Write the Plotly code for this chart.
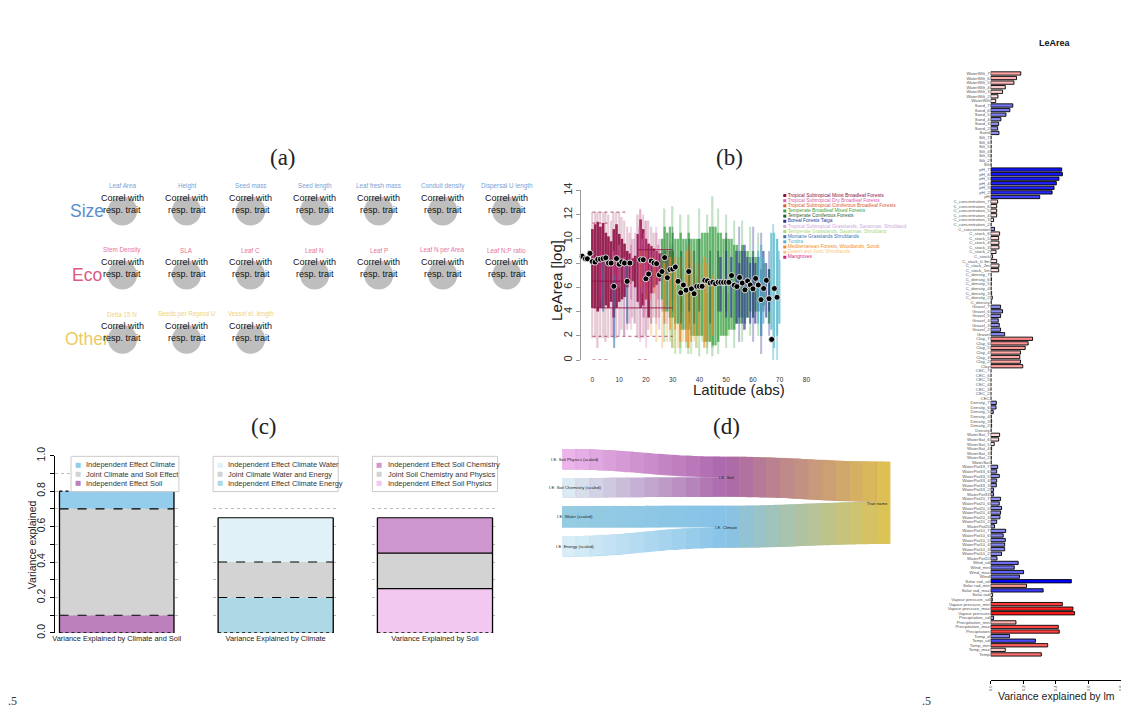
import plotly.graph_objects as go

W, H = 1129, 720
OFF = 8  # page body margin of the html page


def PX(x):
    return (x - OFF) / W


def PY(y):
    return 1 - (y - OFF) / H


# ------------------------------------------------------------------ data
# (a) trait network grid
a_groups = ["Size", "Eco", "Other"]
a_traits_size = ["Leaf Area", "Height", "Seed mass", "Seed length", "Leaf fresh mass",
                 "Conduit density", "Dispersal U length"]
a_traits_eco = ["Stem Density", "SLA", "Leaf C", "Leaf N", "Leaf P", "Leaf N per Area",
                "Leaf N:P ratio"]
a_traits_other = ["Delta 15 N", "Seeds per Reprod U", "Vessel el. length"]
a_node_text = ["Correl with", "resp. trait"]

# (b) LeArea vs latitude
b_biomes = ["Tropical Subtropical Moist Broadleaf Forests",
            "Tropical Subtropical Dry Broadleaf Forests",
            "Tropical Subtropical Coniferous Broadleaf Forests",
            "Temperate Broadleaf Mixed Forests",
            "Temperate Coniferous Forests",
            "Boreal Forests Taiga",
            "Tropical Subtropical Grasslands, Savannas, Shrubland",
            "Temperate Grasslands, Savannas, Shrubland",
            "Montane Grasslands Shrublands",
            "Tundra",
            "Mediterranean Forests, Woodlands, Scrub",
            "Desert and Xeric Shrublands",
            "Mangroves"]
b_x_ticks = [0, 10, 20, 30, 40, 50, 60, 70, 80]
b_y_ticks = [0, 2, 4, 6, 8, 10, 12, 14]
b_mean_lat = [-3.8, -2.6, -1.9, -0.9, 0, 1, 2, 3, 4, 5, 6, 7, 8, 9, 10, 11, 12, 13, 14,
              18, 19, 20, 21, 22, 23, 24, 25, 26, 27, 28, 29, 30, 31, 32, 33, 34, 35, 36,
              37, 38, 39, 40, 41, 42, 43, 44, 45, 46, 47, 48, 49, 50, 51, 52, 53, 54, 55,
              56, 57, 58, 59, 60, 61, 62, 63, 64, 65, 66, 67, 68, 69]
b_mean_val = [8.56, 8.35, 8.35, 8.8, 8.13, 8.08, 8.3, 8.32, 8.37, 8.43, 8.0, 8.0, 6.08,
              8.37, 7.9, 8.1, 8.0, 6.49, 8.0,
              8.27, 8.27, 6.7, 7.1, 8.16, 8.0, 7.95, 7.03, 7.3, 8.45, 6.79, 7.46, 7.5,
              7.67, 6.49, 5.55, 6.19, 5.76, 7.3, 5.87, 5.47, 6.08, 6.08, 6.08, 6.57, 6.52,
              6.35, 6.41, 6.3, 6.41, 6.41, 6.41, 6.41, 6.41, 6.97, 6.17, 6.06, 6.81, 6.35,
              5.79, 6.52, 6.19, 5.87, 6.73, 6.19, 4.98, 5.9, 6.57, 5.06, 1.7, 5.9, 5.17]
# point clouds summarised as vertical strips: (latitude, low, high)
moist_core = [(0, 4.3, 10.8), (1, 4.3, 11.2), (2, 4.0, 11.4), (3, 4.3, 11.0), (4, 4.3, 11.3),
              (5, 4.5, 10.5), (6, 4.3, 10.2), (7, 4.8, 9.8), (8, 3.5, 10.8), (9, 4.3, 11.2),
              (10, 4.8, 10.4), (11, 5.0, 10.0), (12, 5.2, 9.6), (13, 6.0, 9.0), (14, 6.3, 8.8),
              (15, 6.5, 8.4), (16, 6.0, 8.6), (17, 4.8, 10.4), (18, 4.3, 11.6), (19, 4.5, 10.8),
              (20, 5.0, 10.0), (21, 3.5, 9.6), (22, 5.5, 9.4), (23, 6.0, 9.2), (24, 6.2, 9.0),
              (25, 6.5, 8.8), (26, 6.8, 8.8), (27, 6.8, 9.0), (28, 7.0, 8.6), (29, 7.2, 9.0),
              (30, 7.2, 9.0)]
moist_sparse = [(0, 1.8, 12.2), (1, 1.8, 12.2), (2, 1.0, 12.2), (3, 1.8, 12.2), (4, 1.8, 12.2),
                (5, 1.5, 12.2), (6, 1.8, 12.0), (7, 2.0, 11.5), (8, 1.8, 12.2), (9, 1.8, 12.2),
                (10, 2.0, 12.2), (11, 2.5, 11.8), (12, 2.0, 11.5), (13, 2.5, 11.0), (14, 3.0, 10.5),
                (15, 3.5, 10.0), (16, 3.0, 10.5), (17, 1.8, 12.0), (18, 1.8, 12.4), (19, 1.8, 12.0),
                (20, 2.0, 11.5), (21, 2.5, 11.5), (22, 3.0, 11.0), (23, 3.5, 10.5), (24, 3.5, 10.5),
                (25, 3.5, 10.0), (26, 4.0, 10.0), (27, 4.0, 10.0), (28, 4.5, 10.5), (29, 4.5, 9.8),
                (30, 5.0, 9.5)]
moist_lines = [(0, 30, 4.3), (0, 14, 6.5), (17, 30, 9.1)]
moist_dots = [(0, 13, 12.2), (0, 6, 11.3), (0, 6, 0.0), (17, 21, 0.0), (0, 30, 1.95)]
dry_core = [(8, 6.5, 9.0), (10, 6.0, 9.5), (12, 6.5, 8.5), (14.5, 5.0, 9.5), (17.5, 4.5, 11.0),
            (18.5, 5.5, 10.0), (19.5, 3.5, 10.5), (21.5, 5.0, 9.5), (23, 6.0, 9.0),
            (24.5, 5.0, 9.5), (26, 6.5, 8.5)]
dry_sparse = [(14.5, 2.5, 11.0), (18, 1.5, 12.5), (20, 1.0, 11.5), (24, 3.0, 11.0)]
conif_trop = [(18, 6.0, 9.0), (20, 5.0, 9.0), (23, 5.5, 8.5)]
temp_broad_core = [(26, 5, 10), (27, 4, 11), (28, 4, 10.5), (29, 3.5, 11), (30, 3.5, 10.5),
                   (31, 3, 10), (32, 3, 10), (33, 2.5, 10.5), (34, 2.5, 10), (35, 2.5, 10),
                   (36, 2.5, 10.5), (37, 2, 10), (38, 2, 10), (39, 2, 10), (40, 2, 10),
                   (41, 2, 10.5), (42, 1.5, 10.5), (43, 1.5, 10.5), (44, 1.5, 11), (45, 1.2, 11),
                   (46, 1.2, 11), (47, 1.5, 10.5), (48, 2, 10.5), (49, 2, 10), (50, 2, 10),
                   (51, 2.5, 10), (52, 2.5, 10), (53, 2.5, 9.5), (54, 3, 9.5), (55, 3, 9),
                   (56, 3.5, 9.5), (57, 3, 9), (58, 3.5, 9), (59, 4, 8.5), (60, 3.5, 9),
                   (61, 4, 8.5), (62, 4, 8.5), (64, 4.5, 8), (66, 3, 7.5)]
temp_broad_sparse = [(27, 1.5, 12.5), (30, 1, 12.7), (33, 0.5, 12), (36, 0.5, 12), (40, 0.3, 12.5),
                     (43, 0.5, 12), (45, 0.3, 13.5), (47, 0.5, 12.5), (50, 1, 12), (53, 1, 11.5),
                     (56, 1.5, 11.5), (59, 2, 11), (62, 2, 10.5)]
temp_conif = [(30, 4, 11), (33, 3, 9), (36, 4, 10), (38, 3, 9), (40, 4, 10), (44, 3, 9),
              (47, 4, 9), (50, 4, 10.5)]
boreal_core = [(48, 4, 8.5), (50, 3.5, 9), (52, 3.5, 8.5), (54, 3, 9), (55, 3.5, 8), (56, 3, 9),
               (57, 2.5, 9.5), (58, 3.5, 8.5), (59, 3, 8), (60, 3.5, 8.5), (61, 3, 8),
               (62, 4, 8.5), (63, 2, 7.5), (64, 4, 9), (65, 3.5, 8), (66, 4, 7.5)]
boreal_sparse = [(55, 1.5, 11), (60, 1.5, 11), (63, 0.5, 10.5), (66, 2, 9)]
trop_grass = [(8, 2.0, 8.5), (12, 2.0, 9.0), (13, 3, 9), (15.5, 3.0, 10.0), (19, 3.5, 9.5),
              (22, 3.0, 8.5), (25, 2.5, 9.0), (28, 3, 9), (32, 3.0, 8.5)]
temp_grass = [(29, 1.5, 5), (31, 0.5, 6), (33, 1, 7), (35, 1, 5.5), (37, 0.5, 6), (39, 1, 6.5),
              (41, 1.5, 6), (43, 1, 5.5), (45, 1, 6.5), (47, 1.5, 6), (49, 2, 6), (51, 2, 5.5),
              (53, 2.5, 5.5)]
montane = [(4, 4, 8), (8, 1, 7), (13, 3, 8), (27, 3, 9), (29, 3.5, 8.5), (33, 4, 9), (36, 3, 8)]
tundra_core = [(62, 3, 9), (63, 2, 9.5), (64, 3, 8.5), (67, 2.5, 10.5), (68, 1.0, 10.5),
               (69, 2, 10), (70, 3, 9)]
tundra_sparse = [(67.5, 0, 11.2), (69, 0, 10)]
medit_core = [(27, 3, 8), (29, 2.5, 8.5), (31, 2.5, 8.5), (33, 1.5, 8.5), (35, 1.5, 9),
              (36, 1, 9.5), (37, 1.5, 9), (38, 2, 8), (40, 2, 8), (42, 1, 8.5), (43, 1.5, 8),
              (45, 2, 7)]
desert = [(22, 2, 7.5), (24, 1.5, 8), (26, 1, 9), (28, 1.5, 8.5), (30, 1, 9), (31, 1, 8),
          (32, 1, 8), (34, 1.5, 7.5), (36, 1, 7), (38, 1.5, 7.5), (39, 1, 7), (41, 2, 7),
          (44, 1.5, 6)]
mangroves = [(3, 5, 9), (9, 6, 9), (20, 6, 8.5)]

# (c) variance partitioning (stack order bottom -> top)
c1_label = "Variance Explained by Climate and Soil"
c1_names = ["Independent Effect Soil", "Joint Climate and Soil Effect", "Independent Effect Climate"]
c1_values = [0.10, 0.60, 0.10]
c2_label = "Variance Explained by Climate"
c2_names = ["Independent Effect Climate Energy", "Joint Climate Water and Energy",
            "Independent Effect Climate Water"]
c2_values = [0.20, 0.20, 0.25]
c3_label = "Variance Explained by Soil"
c3_names = ["Independent Effect Soil Physics", "Joint Soil Chemistry and Physics",
            "Independent Effect Soil Chemistry"]
c3_values = [0.25, 0.20, 0.20]
c_ticks = [0.0, 0.1, 0.2, 0.3, 0.4, 0.5, 0.6, 0.7, 0.8, 0.9, 1.0]

# (d) sankey
d_nodes = ["I.E. Soil Physics (scaled)", "I.E. Soil Chemistry (scaled)", "I.E. Water (scaled)",
           "I.E. Energy (scaled)", "I.E. Soil", "I.E. Climate", "Trait name"]
d_source = ["I.E. Soil Physics (scaled)", "I.E. Soil Chemistry (scaled)", "I.E. Water (scaled)",
            "I.E. Energy (scaled)", "I.E. Soil", "I.E. Climate"]
d_target = ["I.E. Soil", "I.E. Soil", "I.E. Climate", "I.E. Climate", "Trait name", "Trait name"]
d_value = [21, 20, 22, 21, 41, 43]

# right: variance explained by lm (top -> bottom); sign: +1 red, -1 blue
r_names = ["WaterWilt_7", "WaterWilt_6", "WaterWilt_5", "WaterWilt_4", "WaterWilt_3", "WaterWilt_2", "WaterWilt",
           "Sand_7", "Sand_6", "Sand_5", "Sand_4", "Sand_3", "Sand_2", "Sand",
           "Silt_7", "Silt_6", "Silt_5", "Silt_4", "Silt_3", "Silt_2", "Silt",
           "pH_7", "pH_6", "pH_5", "pH_4", "pH_3", "pH_2", "pH",
           "C_concentration_7", "C_concentration_6", "C_concentration_5", "C_concentration_4",
           "C_concentration_3", "C_concentration_2", "C_concentration",
           "C_stock_6", "C_stock_5", "C_stock_4", "C_stock_3", "C_stock_2", "C_stock",
           "C_stock_0.3m", "C_stock_2m", "C_stock_1m",
           "C_density_7", "C_density_6", "C_density_5", "C_density_4", "C_density_3", "C_density_2", "C_density",
           "Gravel_7", "Gravel_6", "Gravel_5", "Gravel_4", "Gravel_3", "Gravel_2", "Gravel",
           "Clay_7", "Clay_6", "Clay_5", "Clay_4", "Clay_3", "Clay_2", "Clay",
           "CEC_7", "CEC_6", "CEC_5", "CEC_4", "CEC_3", "CEC_2", "CEC",
           "Density_7", "Density_6", "Density_5", "Density_4", "Density_3", "Density_2", "Density",
           "WaterSat_7", "WaterSat_6", "WaterSat_5", "WaterSat_4", "WaterSat_3", "WaterSat_2", "WaterSat",
           "WaterPot33_7", "WaterPot33_6", "WaterPot33_5", "WaterPot33_4", "WaterPot33_3", "WaterPot33_2", "WaterPot33",
           "WaterPot20_7", "WaterPot20_6", "WaterPot20_5", "WaterPot20_4", "WaterPot20_3", "WaterPot20_2", "WaterPot20",
           "WaterPot10_7", "WaterPot10_6", "WaterPot10_5", "WaterPot10_4", "WaterPot10_3", "WaterPot10_2", "WaterPot10",
           "Wind_sd", "Wind_min", "Wind_max", "Wind",
           "Solar rad_sd", "Solar rad_min", "Solar rad_max", "Solar rad",
           "Vapour pressure_sd", "Vapour pressure_min", "Vapour pressure_max", "Vapour pressure",
           "Precipitation_sd", "Precipitation_min", "Precipitation_max", "Precipitation",
           "Temp_d", "Temp_sd", "Temp_min", "Temp_max", "Temp"]
r_values = [0.185, 0.159, 0.143, 0.090, 0.073, 0.045, 0.031,
            0.136, 0.118, 0.094, 0.063, 0.049, 0.043, 0.051,
            0.003, 0.003, 0.003, 0.003, 0.003, 0.003, 0.003,
            0.436, 0.440, 0.419, 0.403, 0.389, 0.377, 0.301,
            0.043, 0.037, 0.037, 0.037, 0.018, 0.003, 0.024,
            0.055, 0.049, 0.051, 0.051, 0.033, 0.012, 0.037, 0.051, 0.049,
            0.003, 0.005, 0.004, 0.003, 0.006, 0.010, 0.004,
            0.061, 0.073, 0.061, 0.047, 0.053, 0.061, 0.086,
            0.257, 0.230, 0.212, 0.183, 0.179, 0.183, 0.197,
            0.002, 0.002, 0.002, 0.002, 0.002, 0.002, 0.002,
            0.035, 0.033, 0.016, 0.004, 0.006, 0.006, 0.003,
            0.055, 0.049, 0.022, 0.006, 0.004, 0.004, 0.004,
            0.043, 0.037, 0.053, 0.037, 0.035, 0.018, 0.018,
            0.061, 0.053, 0.067, 0.061, 0.057, 0.037, 0.024,
            0.092, 0.077, 0.090, 0.086, 0.086, 0.067, 0.039,
            0.169, 0.145, 0.202, 0.177,
            0.495, 0.220, 0.322, 0.012,
            0.010, 0.440, 0.505, 0.515,
            0.018, 0.155, 0.415, 0.421,
            0.116, 0.275, 0.350, 0.090, 0.311]
r_sign = [1, 1, 1, 1, 1, 1, 1,
          -1, -1, -1, -1, -1, -1, -1,
          1, 1, 1, 1, 1, 1, 1,
          -1, -1, -1, -1, -1, -1, -1,
          1, 1, 1, 1, 1, 1, -1,
          1, 1, 1, 1, 1, 1, 1, 1, 1,
          1, 1, 1, 1, 1, 1, 1,
          -1, -1, -1, -1, -1, -1, -1,
          1, 1, 1, 1, 1, 1, 1,
          1, 1, 1, 1, 1, 1, 1,
          -1, -1, -1, 1, 1, 1, 1,
          1, 1, 1, 1, 1, 1, 1,
          -1, -1, -1, -1, -1, -1, -1,
          -1, -1, -1, -1, -1, -1, -1,
          -1, -1, -1, -1, -1, -1, -1,
          -1, -1, -1, -1,
          -1, 1, -1, 1,
          -1, 1, 1, 1,
          -1, 1, 1, 1,
          -1, -1, 1, 1, 1]
r_x_ticks = [0.0, 0.2, 0.4, 0.6, 0.8]

# ------------------------------------------------------------------ helpers
SANS = "Liberation Sans, Arial, Helvetica, sans-serif"
SERIF = "Liberation Serif, DejaVu Serif, serif"


def hex2rgb(h):
    h = h.lstrip("#")
    return [int(h[i:i + 2], 16) for i in (0, 2, 4)]


def mix(c0, c1, t):
    a, b = hex2rgb(c0), hex2rgb(c1)
    return "rgb(%d,%d,%d)" % tuple(round(a[i] + (b[i] - a[i]) * t) for i in range(3))


fig = go.Figure()
ann = []
shapes = []


def note(text, x, y, size, color="#222", family=SANS, xref="paper", yref="paper",
         xanchor="center", **kw):
    d = dict(x=x, y=y, xref=xref, yref=yref, text=text, showarrow=False, xanchor=xanchor,
             yanchor="middle", font=dict(family=family, size=size, color=color))
    d.update(kw)
    ann.append(d)


# ------------------------------------------------------------------ (a)
a_rows = [a_traits_size, a_traits_eco, a_traits_other]
a_group_colors = ["#5B8ECF", "#E05A84", "#EBCB66"]
a_label_colors = ["#7AA2D6", "#E7749A", "#F0D27A"]
cx, cy = [], []
for r, row in enumerate(a_rows):
    note(a_groups[r], PX(84), r, 17.5, a_group_colors[r], yref="y")
    for c, name in enumerate(row):
        cx.append(c)
        cy.append(r)
        note(name, c, r, 6.3, a_label_colors[r], xref="x", yref="y", yshift=25)
        note(a_node_text[0], c, r, 9, "#111", xref="x", yref="y", yshift=13)
        note(a_node_text[1], c, r, 9, "#111", xref="x", yref="y", yshift=1)
fig.add_trace(go.Scatter(x=cx, y=cy, mode="markers", xaxis="x", yaxis="y",
                         marker=dict(size=29, color="#BEBEBE", line=dict(width=0)),
                         hoverinfo="skip", showlegend=False))

# ------------------------------------------------------------------ (b)
bcol = ["#8E1244", "#D860AA", "#D75A30", "#38A043", "#1E5E38", "#2D3690", "#CDA8DA",
        "#A9D67C", "#3C73B0", "#4DB4CC", "#F28C28", "#F8C783", "#D61F7D"]


def strips(data, color, width, opacity):
    fig.add_trace(go.Bar(x=[s[0] for s in data], base=[s[1] for s in data],
                         y=[s[2] - s[1] for s in data], width=width, opacity=opacity,
                         marker=dict(color=color, line=dict(width=0)),
                         xaxis="x2", yaxis="y2", hoverinfo="skip", showlegend=False))


def streaks(data, color, dash, width, opacity):
    xs, ys = [], []
    for s in data:
        xs += [s[0], s[1], None]
        ys += [s[2], s[2], None]
    fig.add_trace(go.Scatter(x=xs, y=ys, mode="lines", opacity=opacity,
                             line=dict(color=color, width=width, dash=dash),
                             xaxis="x2", yaxis="y2", hoverinfo="skip", showlegend=False))


strips(desert, bcol[11], 0.6, 0.55)
strips(temp_grass, bcol[7], 0.6, 0.55)
strips(trop_grass, bcol[6], 0.5, 0.5)
strips(moist_sparse, bcol[0], 0.6, 0.22)
strips(moist_core, bcol[0], 1.0, 0.9)
streaks(moist_lines, bcol[0], "solid", 1.2, 0.7)
streaks(moist_dots, bcol[0], "dot", 1.3, 0.55)
strips(dry_sparse, bcol[1], 0.5, 0.25)
strips(dry_core, bcol[1], 0.5, 0.5)
strips(conif_trop, bcol[2], 0.4, 0.5)
strips(mangroves, bcol[12], 0.4, 0.5)
strips(montane, bcol[8], 0.35, 0.6)
strips(temp_broad_sparse, bcol[3], 0.5, 0.3)
strips(temp_broad_core, bcol[3], 0.9, 0.72)
strips(medit_core, bcol[10], 0.5, 0.65)
strips(temp_conif, bcol[4], 0.35, 0.5)
strips(boreal_sparse, bcol[5], 0.4, 0.35)
strips(boreal_core, bcol[5], 0.6, 0.65)
strips(tundra_sparse, bcol[9], 0.4, 0.45)
strips(tundra_core, bcol[9], 0.55, 0.7)

fig.add_trace(go.Scatter(x=b_mean_lat, y=b_mean_val, mode="markers", xaxis="x2", yaxis="y2",
                         marker=dict(size=6, color="black", line=dict(color="white", width=0.8)),
                         cliponaxis=False, hoverinfo="skip", showlegend=False))

# legend of (b)
fig.add_trace(go.Scatter(x=[0.04] * len(b_biomes), y=list(range(len(b_biomes))),
                         mode="markers+text", text=b_biomes, textposition="middle right",
                         textfont=dict(family=SANS, size=4.9, color=bcol),
                         marker=dict(size=3, symbol="square", color=bcol),
                         xaxis="x3", yaxis="y3", hoverinfo="skip", showlegend=False,
                         cliponaxis=False))

note("LeArea [log]", PX(556.5), PY(277.5), 15, textangle=-90)
note("Latitude (abs)", PX(739), PY(388), 15)

# ------------------------------------------------------------------ (c)
c_colors = {
    "Independent Effect Soil": "#BC80BD",
    "Joint Climate and Soil Effect": "#D3D3D3",
    "Independent Effect Climate": "#93CDEB",
    "Independent Effect Climate Energy": "#ADD8E6",
    "Joint Climate Water and Energy": "#D3D3D3",
    "Independent Effect Climate Water": "#E0F2F7",
    "Independent Effect Soil Physics": "#F2C8F0",
    "Joint Soil Chemistry and Physics": "#D3D3D3",
    "Independent Effect Soil Chemistry": "#CF97CF",
}
c_panels = [(c1_label, c1_names, c1_values, "4", "dash", "dot", (68.3, 176.7)),
            (c2_label, c2_names, c2_values, "5", "dash", "solid", (211, 336.7)),
            (c3_label, c3_names, c3_values, "6", "solid", "solid", (371, 496.7))]
BW = 0.92
hw = BW / 2
for label, names, vals, k, inner_dash, top_dash, box in c_panels:
    base = 0.0
    bounds = [0.0]
    for n, v in zip(names, vals):
        fig.add_trace(go.Bar(x=[0], y=[v], base=[base], width=BW, xaxis="x" + k, yaxis="y" + k,
                             marker=dict(color=c_colors[n], line=dict(width=0)),
                             hoverinfo="skip", showlegend=False))
        base += v
        bounds.append(base)
    total = bounds[-1]
    fig.add_trace(go.Scatter(x=[-hw, -hw, None, hw, hw], y=[0, total, None, 0, total], mode="lines",
                             line=dict(color="black", width=1.3), xaxis="x" + k, yaxis="y" + k,
                             hoverinfo="skip", showlegend=False))
    for i, b in enumerate(bounds):
        dash = "dot" if i == 0 else (top_dash if i == len(bounds) - 1 else inner_dash)
        fig.add_trace(go.Scatter(x=[-hw, hw], y=[b, b], mode="lines",
                                 line=dict(color="black", width=1.1, dash=dash),
                                 xaxis="x" + k, yaxis="y" + k, hoverinfo="skip", showlegend=False))
    shapes.append(dict(type="rect", xref="paper", yref="paper", x0=PX(box[0]), x1=PX(box[1]),
                       y0=PY(492.7), y1=PY(456.7), line=dict(color="#CCCCCC", width=1),
                       fillcolor="white", layer="above"))
    for j, n in enumerate(reversed(names)):
        yy = [465.3, 475, 484][j]
        note("■", PX(box[0] + 7), PY(yy), 6.5, c_colors[n], family="DejaVu Sans")
        note(n, PX(box[0] + 13.4), PY(yy), 7.4, "#333", xanchor="left")

note("Variance explained", PX(29), PY(546.5), 10.5, textangle=-90)

# ------------------------------------------------------------------ (d) sankey with gradient links
d_top_px = {4: 8.0, 5: 58.0, 6: 13.0}
d_x = {0: 0.001, 1: 0.001, 2: 0.001, 3: 0.001, 4: 0.5, 5: 0.5, 6: 0.999}
d_col = {0: "#EEB8EE", 1: "#DDF0F6", 2: "#97CCE1", 3: "#DCEFF7", 4: "#AB67AB", 5: "#86C3E8",
         6: "#E0C350"}
DOM_T, DOM_B = 449.0, 559.3
DH = DOM_B - DOM_T
PAD = 8.67
idx = {n: i for i, n in enumerate(d_nodes)}
node_val = [0.0] * len(d_nodes)
for s, t, v in zip(d_source, d_target, d_value):
    node_val[idx[t]] += v
for i in range(4):
    node_val[i] = d_value[i]
ky = (DH - 3 * PAD) / sum(node_val[:4])
top = {}
acc = 0.0
for i in range(4):
    top[i] = acc
    acc += node_val[i] * ky + PAD
for i in (4, 5, 6):
    top[i] = d_top_px[i]

base_x = [d_x[i] for i in range(len(d_nodes))]
base_y = [(top[i] + node_val[i] * ky / 2) / DH for i in range(len(d_nodes))]
nx, ny, ncol = list(base_x), list(base_y), [d_col[i] for i in range(len(d_nodes))]
ls, lt, lv, lc = [], [], [], []
base_lc = []
out_off = {i: 0.0 for i in range(len(d_nodes))}
in_off = {i: 0.0 for i in range(len(d_nodes))}
NSEG = 12
for s_name, t_name, v in zip(d_source, d_target, d_value):
    s, t = idx[s_name], idx[t_name]
    base_lc.append(mix(d_col[s], d_col[t], 0.5))
    h = v * ky
    ys = top[s] + out_off[s] + h / 2
    yt = top[t] + in_off[t] + h / 2
    out_off[s] += h
    in_off[t] += h
    prev = s
    for kk in range(1, NSEG):
        f = kk / NSEG
        sm = f * f * (3 - 2 * f)
        nx.append(d_x[s] + (d_x[t] - d_x[s]) * f)
        ny.append((ys + (yt - ys) * sm) / DH)
        ncol.append(mix(d_col[s], d_col[t], f))
        cur = len(nx) - 1
        ls.append(prev)
        lt.append(cur)
        lv.append(v)
        lc.append(mix(d_col[s], d_col[t], (kk - 0.5) / NSEG))
        prev = cur
    ls.append(prev)
    lt.append(t)
    lv.append(v)
    lc.append(mix(d_col[s], d_col[t], (NSEG - 0.5) / NSEG))

sk_domain = dict(x=[PX(561.7), PX(891)], y=[PY(DOM_B), PY(DOM_T)])
# underlay: one smooth link per flow (hides anti-aliasing seams of the gradient layer)
fig.add_trace(go.Sankey(
    domain=sk_domain, arrangement="fixed",
    node=dict(pad=PAD, thickness=1, line=dict(width=0), color=[d_col[i] for i in range(len(d_nodes))],
              x=base_x, y=base_y, label=[""] * len(d_nodes), hoverinfo="skip"),
    link=dict(source=[idx[s] for s in d_source], target=[idx[t] for t in d_target], value=d_value,
              color=base_lc, hoverinfo="skip"),
    textfont=dict(size=1, color="rgba(0,0,0,0)"),
))
fig.add_trace(go.Sankey(
    domain=sk_domain, arrangement="fixed",
    node=dict(pad=PAD, thickness=1, line=dict(width=0), color=ncol, x=nx, y=ny,
              label=[""] * len(nx), hoverinfo="skip"),
    link=dict(source=ls, target=lt, value=lv, color=lc, hoverinfo="skip"),
    textfont=dict(size=1, color="rgba(0,0,0,0)"),
))
d_label_pos = [(575, 459.5), (575, 488), (575, 518), (575, 548.5), (727, 478), (727, 529),
               (878, 505)]
for n, (lx, ly) in zip(d_nodes, d_label_pos):
    note(n, PX(lx), PY(ly), 4.3, "#222")

# ------------------------------------------------------------------ right panel
red_x, red_y, red_c, blue_x, blue_y, blue_c = [], [], [], [], [], []
for n, v, sg in zip(r_names, r_values, r_sign):
    if sg > 0:
        red_x.append(v)
        red_y.append(n)
        red_c.append(mix("#FFF2F2", "#FF1A1A", min(v / 0.52, 1)))
    else:
        blue_x.append(v)
        blue_y.append(n)
        blue_c.append(mix("#A4A4F0", "#0000FF", min(v / 0.5, 1)))
for xs, ys, cs in ((red_x, red_y, red_c), (blue_x, blue_y, blue_c)):
    fig.add_trace(go.Bar(x=xs, y=ys, orientation="h", width=0.72, xaxis="x7", yaxis="y7",
                         marker=dict(color=cs, line=dict(color="black", width=0.9)),
                         hoverinfo="skip", showlegend=False))

note("<b>LeArea</b>", PX(1057), PY(35), 9, "#111")
note("Variance explained by lm", PX(1058), PY(701), 10.5)

for txt, x, y in (("(a)", 281, 152), ("(b)", 730, 152), ("(c)", 262, 426), ("(d)", 727, 426)):
    note(txt, PX(x), PY(y), 23, "#222", family=SERIF)
for x in (10, 928):
    note(".5", PX(x), PY(707), 12, "#333", family=SERIF)

# ------------------------------------------------------------------ layout
hidden = dict(visible=False, showgrid=False, zeroline=False)
layout = dict(
    width=W, height=H, margin=dict(l=0, r=0, t=0, b=0),
    paper_bgcolor="white", plot_bgcolor="white", barmode="overlay", showlegend=False,
    font=dict(family=SANS, color="#222"),
    annotations=ann, shapes=shapes,
    xaxis=dict(domain=[PX(87.8), PX(538.2)], range=[-0.5, 6.5], anchor="y", **hidden),
    yaxis=dict(domain=[PY(369.75), PY(173.25)], range=[2.5, -0.5], anchor="x", **hidden),
    xaxis2=dict(domain=[PX(580.7), PX(812.4)], range=[-4.2, 82], anchor="y2",
                tickvals=b_x_ticks, ticks="outside", ticklen=13, tickcolor="rgba(0,0,0,0)",
                tickfont=dict(size=6.5, color="#333"), showline=False, showgrid=False, zeroline=False),
    yaxis2=dict(domain=[PY(358.3), PY(185)], range=[0, 14], anchor="x2",
                tickvals=b_y_ticks, ticks="outside", ticklen=4, tickcolor="#999", showline=True,
                linecolor="#999", linewidth=1, tickangle=-90, tickfont=dict(size=11, color="#333"),
                showgrid=False, zeroline=False),
    xaxis3=dict(domain=[PX(780), PX(910)], range=[0, 1], anchor="y3", **hidden),
    yaxis3=dict(domain=[PY(256), PY(187.7)], range=[12.5, -0.5], anchor="x3", **hidden),
    xaxis7=dict(domain=[PX(992), PX(1123)], range=[0, 0.8], anchor="y7", tickvals=r_x_ticks,
                ticktext=["%.1f" % v for v in r_x_ticks], ticks="outside", ticklen=3,
                tickcolor="black", tickangle=-90, tickfont=dict(size=4, color="#444"),
                showline=True, linecolor="black", linewidth=0.9, showgrid=False, zeroline=False),
    yaxis7=dict(domain=[PY(685), PY(62.4)], range=[-5.57, len(r_names) - 1 + 0.7], anchor="x7",
                type="category", categoryorder="array", categoryarray=list(reversed(r_names)),
                tickmode="array", tickvals=r_names, ticktext=r_names, ticks="",
                tickfont=dict(size=4.3, color="#555"), showline=False, showgrid=False,
                zeroline=False),
)
c_dom = {"4": (51.7, 176.7), "5": (211, 336.7), "6": (371, 496.7)}
c_lab = {"4": c1_label, "5": c2_label, "6": c3_label}
for k, (l, r) in c_dom.items():
    layout["xaxis" + k] = dict(domain=[PX(l), PX(r)], range=[-0.5, 0.5], anchor="y" + k,
                               tickvals=[0], ticktext=[c_lab[k]], ticks="", showline=False,
                               showgrid=False, zeroline=False, tickfont=dict(size=7.4, color="#222"))
    ya = dict(domain=[PY(637), PY(456)], range=[0, 1.0], anchor="x" + k, showgrid=True,
              gridcolor="#BBBBBB", griddash="dot", gridwidth=0.8, zeroline=False,
              tickvals=c_ticks)
    if k == "4":
        ya.update(ticktext=["%.1f" % v if i % 2 == 0 else "" for i, v in enumerate(c_ticks)],
                  ticks="outside", ticklen=4, tickcolor="black", showline=True, linecolor="black",
                  linewidth=1, tickangle=-90, tickfont=dict(size=10.5, color="#222"))
    else:
        ya.update(showticklabels=False, ticks="", showline=False)
    layout["yaxis" + k] = ya

fig.update_layout(**layout)
fig.write_html("out.html")
